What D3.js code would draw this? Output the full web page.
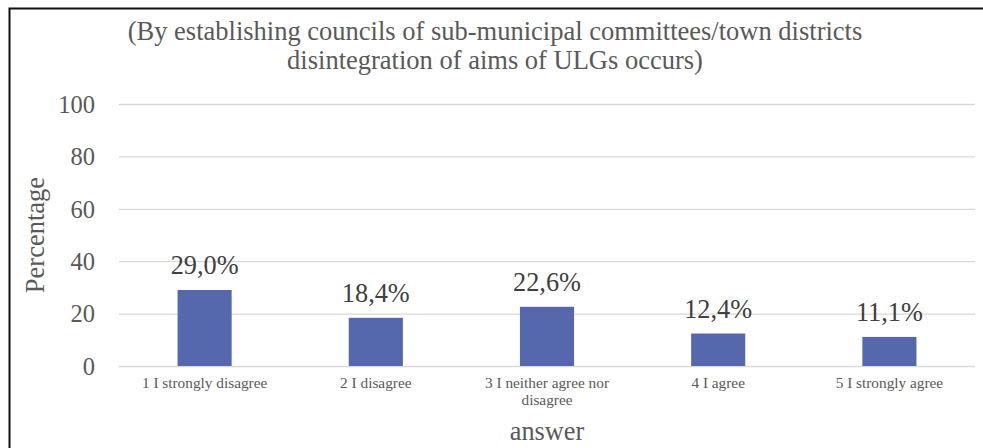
<!DOCTYPE html>
<html>
<head>
<meta charset="utf-8">
<script src="https://cdn.jsdelivr.net/npm/d3@7"></script>
<style>
  html, body { margin: 0; padding: 0; background: #fff; }
  svg { display: block; }
  text { font-family: "Liberation Serif", "Times New Roman", serif; }
</style>
</head>
<body>
<svg id="chart" width="983" height="448"></svg>
<script>
// Survey answers and their shares (percent)
const categories = [
  "1 I strongly disagree",
  "2 I disagree",
  "3 I neither agree nor disagree",
  "4 I agree",
  "5 I strongly agree"
];
const categoryLines = [
  ["1 I strongly disagree"],
  ["2 I disagree"],
  ["3 I neither agree nor", "disagree"],
  ["4 I agree"],
  ["5 I strongly agree"]
];
const values = [29.0, 18.4, 22.6, 12.4, 11.1];
const yTicks = [0, 20, 40, 60, 80, 100];
const titleLines = [
  "(By establishing councils of sub-municipal committees/town districts",
  "disintegration of aims of ULGs occurs)"
];
const xTitle = "answer";
const yTitle = "Percentage";

const svg = d3.select("#chart");
const serif = "Liberation Serif, Times New Roman, serif";
const textColor = "#595959";
const barColor = "#5668AD";
const gridColor = "#D9D9D9";

// outer frame of the chart area
svg.append("path")
  .attr("d", "M9.5,448 V8.5 H983")
  .attr("fill", "none")
  .attr("stroke", "#111")
  .attr("stroke-width", 2);

const plot = { left: 119, right: 975, top: 104, bottom: 366 };

const x = d3.scaleBand()
  .domain(categories)
  .range([plot.left, plot.right])
  .paddingInner(0.684)
  .paddingOuter(0.342);

const y = d3.scaleLinear()
  .domain([0, 100])
  .range([plot.bottom, plot.top]);

// gridlines and value ticks
const yAxis = d3.axisLeft(y)
  .tickValues(yTicks)
  .tickSize(-(plot.right - plot.left))
  .tickPadding(24)
  .tickFormat(d3.format("d"));

const gy = svg.append("g")
  .attr("transform", `translate(${plot.left},0)`)
  .call(yAxis)
  .attr("font-family", serif);
gy.select(".domain").remove();
gy.selectAll(".tick line").attr("stroke", gridColor).attr("stroke-width", 1.3);
gy.selectAll(".tick text")
  .attr("fill", textColor)
  .attr("font-size", 24.5)
  .attr("dy", "0.34em");

// bars
svg.append("g").selectAll("rect")
  .data(values)
  .join("rect")
  .attr("x", (d, i) => x(categories[i]))
  .attr("y", d => y(d))
  .attr("width", x.bandwidth())
  .attr("height", d => y(0) - y(d))
  .attr("fill", barColor);

// value labels
svg.append("g").selectAll("text")
  .data(values)
  .join("text")
  .attr("x", (d, i) => x(categories[i]) + x.bandwidth() / 2)
  .attr("y", d => y(d) - 16)
  .attr("text-anchor", "middle")
  .attr("font-size", 26.3)
  .attr("fill", "#404040")
  .text(d => d.toFixed(1).replace(".", ",") + "%");

// category labels
const cat = svg.append("g").selectAll("text")
  .data(categoryLines)
  .join("text")
  .attr("x", (d, i) => x(categories[i]) + x.bandwidth() / 2)
  .attr("y", 388)
  .attr("text-anchor", "middle")
  .attr("font-size", 15.3)
  .attr("fill", textColor);
cat.selectAll("tspan")
  .data(d => d)
  .join("tspan")
  .attr("x", function () { return d3.select(this.parentNode).attr("x"); })
  .attr("dy", (d, j) => j === 0 ? 0 : 17)
  .text(d => d);

// chart title
svg.append("g").selectAll("text")
  .data(titleLines)
  .join("text")
  .attr("x", 495)
  .attr("y", (d, i) => 40 + i * 29)
  .attr("text-anchor", "middle")
  .attr("font-size", 26.5)
  .attr("fill", textColor)
  .text(d => d);

// axis titles
svg.append("text")
  .attr("x", (plot.left + plot.right) / 2)
  .attr("y", 440)
  .attr("text-anchor", "middle")
  .attr("font-size", 26.3)
  .attr("fill", textColor)
  .text(xTitle);

svg.append("text")
  .attr("transform", `translate(44,235) rotate(-90)`)
  .attr("text-anchor", "middle")
  .attr("font-size", 26.5)
  .attr("fill", textColor)
  .text(yTitle);
</script>
</body>
</html>
